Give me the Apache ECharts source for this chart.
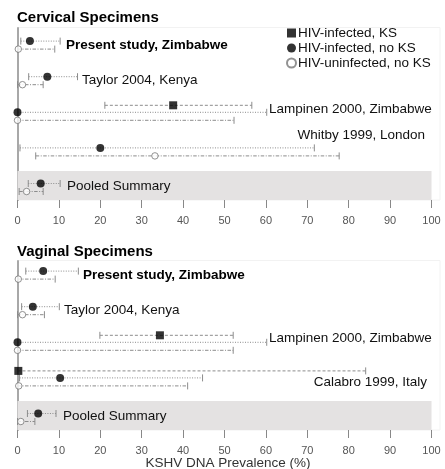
<!DOCTYPE html>
<html>
<head>
<meta charset="utf-8">
<script src="https://cdn.jsdelivr.net/npm/echarts@6/dist/echarts.min.js"></script>
<style>html,body{margin:0;padding:0;background:#fff}#c{width:445px;height:469px}</style>
</head>
<body>
<div id="c"></div>
<script>
// ---------- DATA ----------
const xTicks = [0, 10, 20, 30, 40, 50, 60, 70, 80, 90, 100];
const seriesNames = ['HIV-infected, KS', 'HIV-infected, no KS', 'HIV-uninfected, no KS'];

const cervStudies = ['Present study, Zimbabwe', 'Taylor 2004, Kenya', 'Lampinen 2000, Zimbabwe', 'Whitby 1999, London', 'Pooled Summary'];
const cervKS      = [null, null, 37.6, null, null];
const cervKSLo    = [null, null, 21.1, null, null];
const cervKSHi    = [null, null, 56.6, null, null];
const cervInf     = [3.0, 7.2, 0, 20.0, 5.6];
const cervInfLo   = [0.8, 2.7, 0, 0.6, 2.6];
const cervInfHi   = [10.3, 14.5, 60.2, 71.7, 10.3];
const cervUn      = [0.2, 1.2, 0, 33.2, 2.2];
const cervUnLo    = [0, 0, 0, 4.4, 0.4];
const cervUnHi    = [9.0, 6.2, 52.3, 77.7, 6.2];

const vagStudies = ['Present study, Zimbabwe', 'Taylor 2004, Kenya', 'Lampinen 2000, Zimbabwe', 'Calabro 1999, Italy', 'Pooled Summary'];
const vagKS      = [null, null, 34.4, 0.2, null];
const vagKSLo    = [null, null, 19.9, 0, null];
const vagKSHi    = [null, null, 52.1, 84.1, null];
const vagInf     = [6.2, 3.7, 0, 10.3, 5.0];
const vagInfLo   = [2.0, 1.0, 0, 0.5, 2.4];
const vagInfHi   = [14.7, 10.1, 60.2, 44.7, 9.3];
const vagUn      = [0.2, 1.2, 0, 0.3, 0.8];
const vagUnLo    = [0, 0, 0, 0, 0];
const vagUnHi    = [9.1, 6.5, 52.1, 41.1, 4.2];

// ---------- LAYOUT ----------
const FONT = '"Liberation Sans", Arial, sans-serif';
const PITCH = 35.6;               // px per study row
const offKS = -11 / PITCH, offInf = -4 / PITCH, offUn = 4 / PITCH;
const yMax = 4 + 12.5 / PITCH;
const grids = [
  { left: 17.5, width: 414, top: 28, height: 172 },
  { left: 17.5, width: 414, top: 261, height: 169 }
];
const LINE_COLOR = '#8c8c8c';

function ciRender(dash) {
  return function (params, api) {
    const y = api.value(2);
    const a = api.coord([api.value(0), y]);
    const b = api.coord([api.value(1), y]);
    const h = 3.5;
    return {
      type: 'group',
      children: [
        { type: 'line', shape: { x1: a[0], y1: a[1], x2: b[0], y2: b[1] }, style: { stroke: LINE_COLOR, lineWidth: 1, lineDash: dash } },
        { type: 'line', shape: { x1: a[0], y1: a[1] - h, x2: a[0], y2: a[1] + h }, style: { stroke: LINE_COLOR, lineWidth: 1 } },
        { type: 'line', shape: { x1: b[0], y1: b[1] - h, x2: b[0], y2: b[1] + h }, style: { stroke: LINE_COLOR, lineWidth: 1 } }
      ]
    };
  };
}

function ciData(lo, hi, off) {
  const out = [];
  lo.forEach((v, i) => { if (v !== null && hi[i] !== null) out.push([v, hi[i], i + off]); });
  return out;
}
function ptData(vals, off) {
  const out = [];
  vals.forEach((v, i) => { if (v !== null) out.push([v, i + off]); });
  return out;
}

function panelSeries(idx, ks, ksLo, ksHi, inf, infLo, infHi, un, unLo, unHi) {
  const base = { xAxisIndex: idx, yAxisIndex: idx };
  return [
    Object.assign({ type: 'custom', name: 'ciKS' + idx, renderItem: ciRender([3, 2]), encode: { x: [0, 1], y: 2 }, data: ciData(ksLo, ksHi, offKS), z: 2, silent: true }, base),
    Object.assign({ type: 'custom', name: 'ciInf' + idx, renderItem: ciRender([1, 1.5]), encode: { x: [0, 1], y: 2 }, data: ciData(infLo, infHi, offInf), z: 2, silent: true }, base),
    Object.assign({ type: 'custom', name: 'ciUn' + idx, renderItem: ciRender([3.5, 1.5, 1, 1.5]), encode: { x: [0, 1], y: 2 }, data: ciData(unLo, unHi, offUn), z: 2, silent: true }, base),
    Object.assign({
      type: 'scatter', name: seriesNames[0], symbol: 'rect', symbolSize: 8,
      itemStyle: { color: '#000' }, data: ptData(ks, offKS), z: 5,
      markArea: {
        silent: true, itemStyle: { color: '#e4e2e2' },
        data: [[{ xAxis: 0, yAxis: 3.54 }, { xAxis: 100, yAxis: yMax }]]
      }
    }, base),
    Object.assign({ type: 'scatter', name: seriesNames[1], symbol: 'circle', symbolSize: 8, itemStyle: { color: '#000' }, data: ptData(inf, offInf), z: 5 }, base),
    Object.assign({ type: 'scatter', name: seriesNames[2], symbol: 'circle', symbolSize: 6.5, itemStyle: { color: '#fff', borderColor: '#777', borderWidth: 1 }, data: ptData(un, offUn), z: 5 }, base)
  ];
}

function xAxisCfg(idx) {
  return {
    type: 'value', gridIndex: idx, position: 'bottom', min: xTicks[0], max: xTicks[xTicks.length - 1], interval: 10,
    axisLine: { show: false, onZero: false },
    axisTick: { show: true, length: 8, lineStyle: { color: '#888' } },
    axisLabel: { fontSize: 11, color: '#555', fontFamily: FONT, margin: 15 },
    splitLine: { show: false }
  };
}
function yAxisCfg(idx) {
  return {
    type: 'value', gridIndex: idx, position: 'left', inverse: true, min: yMax - grids[idx].height / PITCH, max: yMax,
    axisLine: { show: true, onZero: false, lineStyle: { color: '#a8a8a8', width: 2 } },
    axisTick: { show: false }, axisLabel: { show: false }, splitLine: { show: false }
  };
}

function txt(x, y, s, opts) {
  return {
    type: 'text', x: x, y: y, z: 20,
    style: Object.assign({ text: s, font: '13.5px ' + FONT, fill: '#111', textVerticalAlign: 'middle', textAlign: 'left' }, opts || {})
  };
}

const graphics = [
  { type: 'rect', shape: { x: 17.5, y: 27.5, width: 422.5, height: 172.5 }, style: { fill: 'none', stroke: '#f2f2f2', lineWidth: 1 }, z: -1 },
  { type: 'rect', shape: { x: 17.5, y: 260.5, width: 422.5, height: 169.5 }, style: { fill: 'none', stroke: '#f2f2f2', lineWidth: 1 }, z: -1 },
  txt(17, 18, 'Cervical Specimens', { font: 'bold 15px ' + FONT, fill: '#000' }),
  txt(17, 251.5, 'Vaginal Specimens', { font: 'bold 15px ' + FONT, fill: '#000' }),
  txt(66, 45.5, cervStudies[0], { font: 'bold 13.5px ' + FONT, fill: '#000' }),
  txt(82, 80, cervStudies[1]),
  txt(269, 109, cervStudies[2]),
  txt(425, 135, cervStudies[3], { textAlign: 'right' }),
  txt(67, 186.5, cervStudies[4]),
  txt(83, 275, vagStudies[0], { font: 'bold 13.5px ' + FONT, fill: '#000' }),
  txt(64, 310, vagStudies[1]),
  txt(269, 338.5, vagStudies[2]),
  txt(427, 382, vagStudies[3], { textAlign: 'right' }),
  txt(63, 416.5, vagStudies[4]),
  txt(228, 463.5, 'KSHV DNA Prevalence (%)', { textAlign: 'center', fill: '#333' })
];

const chart = echarts.init(document.getElementById('c'), null, { renderer: 'canvas' });
chart.setOption({
  animation: false,
  backgroundColor: '#fff',
  grid: grids,
  xAxis: [xAxisCfg(0), xAxisCfg(1)],
  yAxis: [yAxisCfg(0), yAxisCfg(1)],
  legend: {
    data: seriesNames, orient: 'vertical', left: 286, top: 26,
    itemWidth: 9, itemHeight: 9, itemGap: 1, padding: 0,
    textStyle: { fontSize: 13.5, fontFamily: FONT, color: '#111', lineHeight: 14, padding: [0, 0, 0, -3] },
    selectedMode: false
  },
  graphic: graphics,
  series: [].concat(
    panelSeries(0, cervKS, cervKSLo, cervKSHi, cervInf, cervInfLo, cervInfHi, cervUn, cervUnLo, cervUnHi),
    panelSeries(1, vagKS, vagKSLo, vagKSHi, vagInf, vagInfLo, vagInfHi, vagUn, vagUnLo, vagUnHi)
  )
});
</script>
</body>
</html>
